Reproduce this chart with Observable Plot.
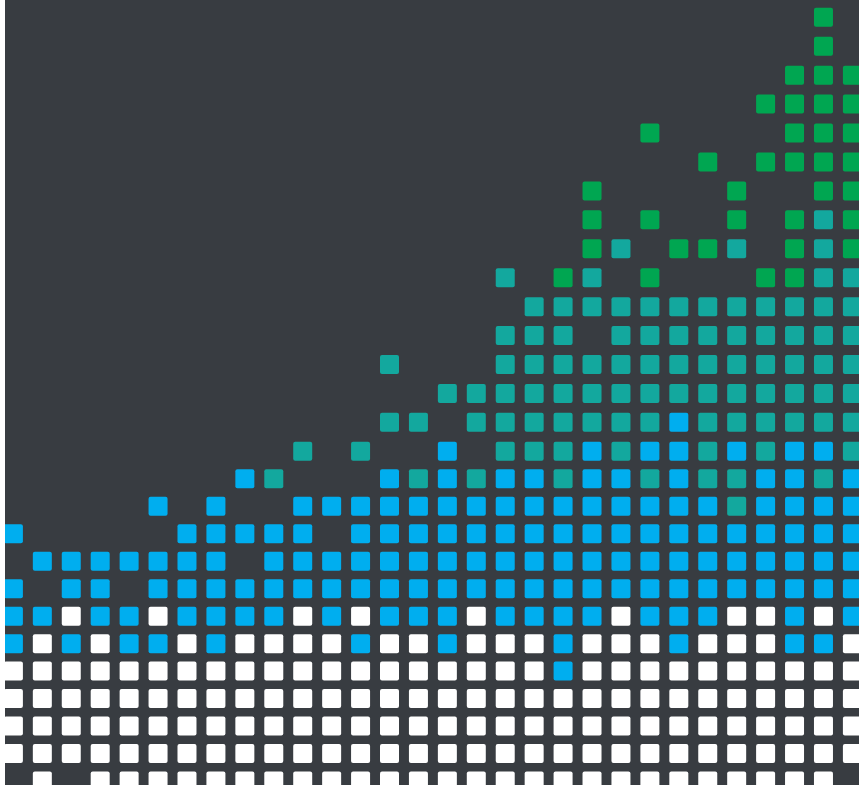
<!DOCTYPE html>
<html>
<head>
<meta charset="utf-8">
<script src="https://cdn.jsdelivr.net/npm/d3@7"></script>
<script src="https://cdn.jsdelivr.net/npm/@observablehq/plot@0.6"></script>
<style>
  html, body { margin: 0; padding: 0; background: #ffffff; overflow: hidden; }
  #chart { margin-left: 5px; width: 854px; height: 785px; }
  #chart svg { display: block; overflow: hidden; }
</style>
</head>
<body>
<div id="chart"></div>
<script>
// Category codes used in the grid, their names and colours
const codes = ["W", "B", "T", "G"];
const categories = ["Category 1", "Category 2", "Category 3", "Category 4"];
const colors = ["#ffffff", "#00aeef", "#13a89e", "#00a651"];

// Grid of cells: one string per row (top row first), one character per column ("." = empty)
const rows = [
  "............................G.",
  "............................G.",
  "...........................GGG",
  "..........................GGGG",
  "......................G....GGG",
  "........................G.GGGG",
  "....................G....G..GG",
  "....................G.G..G.GTG",
  "....................GT.GGT.GTG",
  ".................T.GT.G...GGTT",
  "..................TTTTTTTTTTTT",
  ".................TTT.TTTTTTTTT",
  ".............T...TTTTTTTTTTTTT",
  "...............TTTTTTTTTTTTTTT",
  ".............TT.TTTTTTTBTTTTTT",
  "..........T.T..B.TTTBTBBTBTBBT",
  "........BT...BTBTBBTBBTBTTBBTB",
  ".....B.B..BBBBBBBBBBBBBBBTBBBB",
  "B.....BBBBB.BBBBBBBBBBBBBBBBBB",
  ".BBBBBBB.BBBBBBBBBBBBBBBBBBBBB",
  "B.BB.BBBBBBBBBBBBBBBBBBBBBBBBB",
  "BBWBBWBBBBWBWBBBWBBBBWBBBWWBWB",
  "BWBWBBWBWWWWBWWBWWWBWWWBWWWBBW",
  "WWWWWWWWWWWWWWWWWWWBWWWWWWWWWW",
  "WWWWWWWWWWWWWWWWWWWWWWWWWWWWWW",
  "WWWWWWWWWWWWWWWWWWWWWWWWWWWWWW",
  "WWWWWWWWWWWWWWWWWWWWWWWWWWWWWW",
  ".W.WWWWWWWWWWWWWWWWWWWWWWWWWW."
];

const cells = [];
rows.forEach((line, r) => {
  [...line].forEach((ch, c) => {
    const k = codes.indexOf(ch);
    if (k >= 0) cells.push({col: c, row: r, cat: categories[k]});
  });
});

// Rounded square symbol of fixed pixel side
const side = 19, radius = 2;
const roundSquare = {
  draw(ctx) {
    const s = side / 2, k = radius;
    ctx.moveTo(-s + k, -s);
    ctx.lineTo(s - k, -s);
    ctx.arcTo(s, -s, s, -s + k, k);
    ctx.lineTo(s, s - k);
    ctx.arcTo(s, s, s - k, s, k);
    ctx.lineTo(-s + k, s);
    ctx.arcTo(-s, s, -s, s - k, k);
    ctx.lineTo(-s, -s + k);
    ctx.arcTo(-s, -s, -s + k, -s, k);
    ctx.closePath();
  }
};

const chart = Plot.plot({
  width: 854,
  height: 785,
  margin: 0,
  style: {background: "#383c41", overflow: "hidden"},
  x: {type: "linear", domain: [0, 29], range: [7.9, 846.9], axis: null},
  y: {type: "linear", domain: [0, 15, 27], range: [16.8, 450.8, 780.5], axis: null},
  color: {type: "ordinal", domain: categories, range: colors, legend: false},
  marks: [
    Plot.dot(cells, {x: "col", y: "row", fill: "cat", symbol: roundSquare, r: 5, stroke: null})
  ]
});
document.getElementById("chart").appendChild(chart);
</script>
</body>
</html>
